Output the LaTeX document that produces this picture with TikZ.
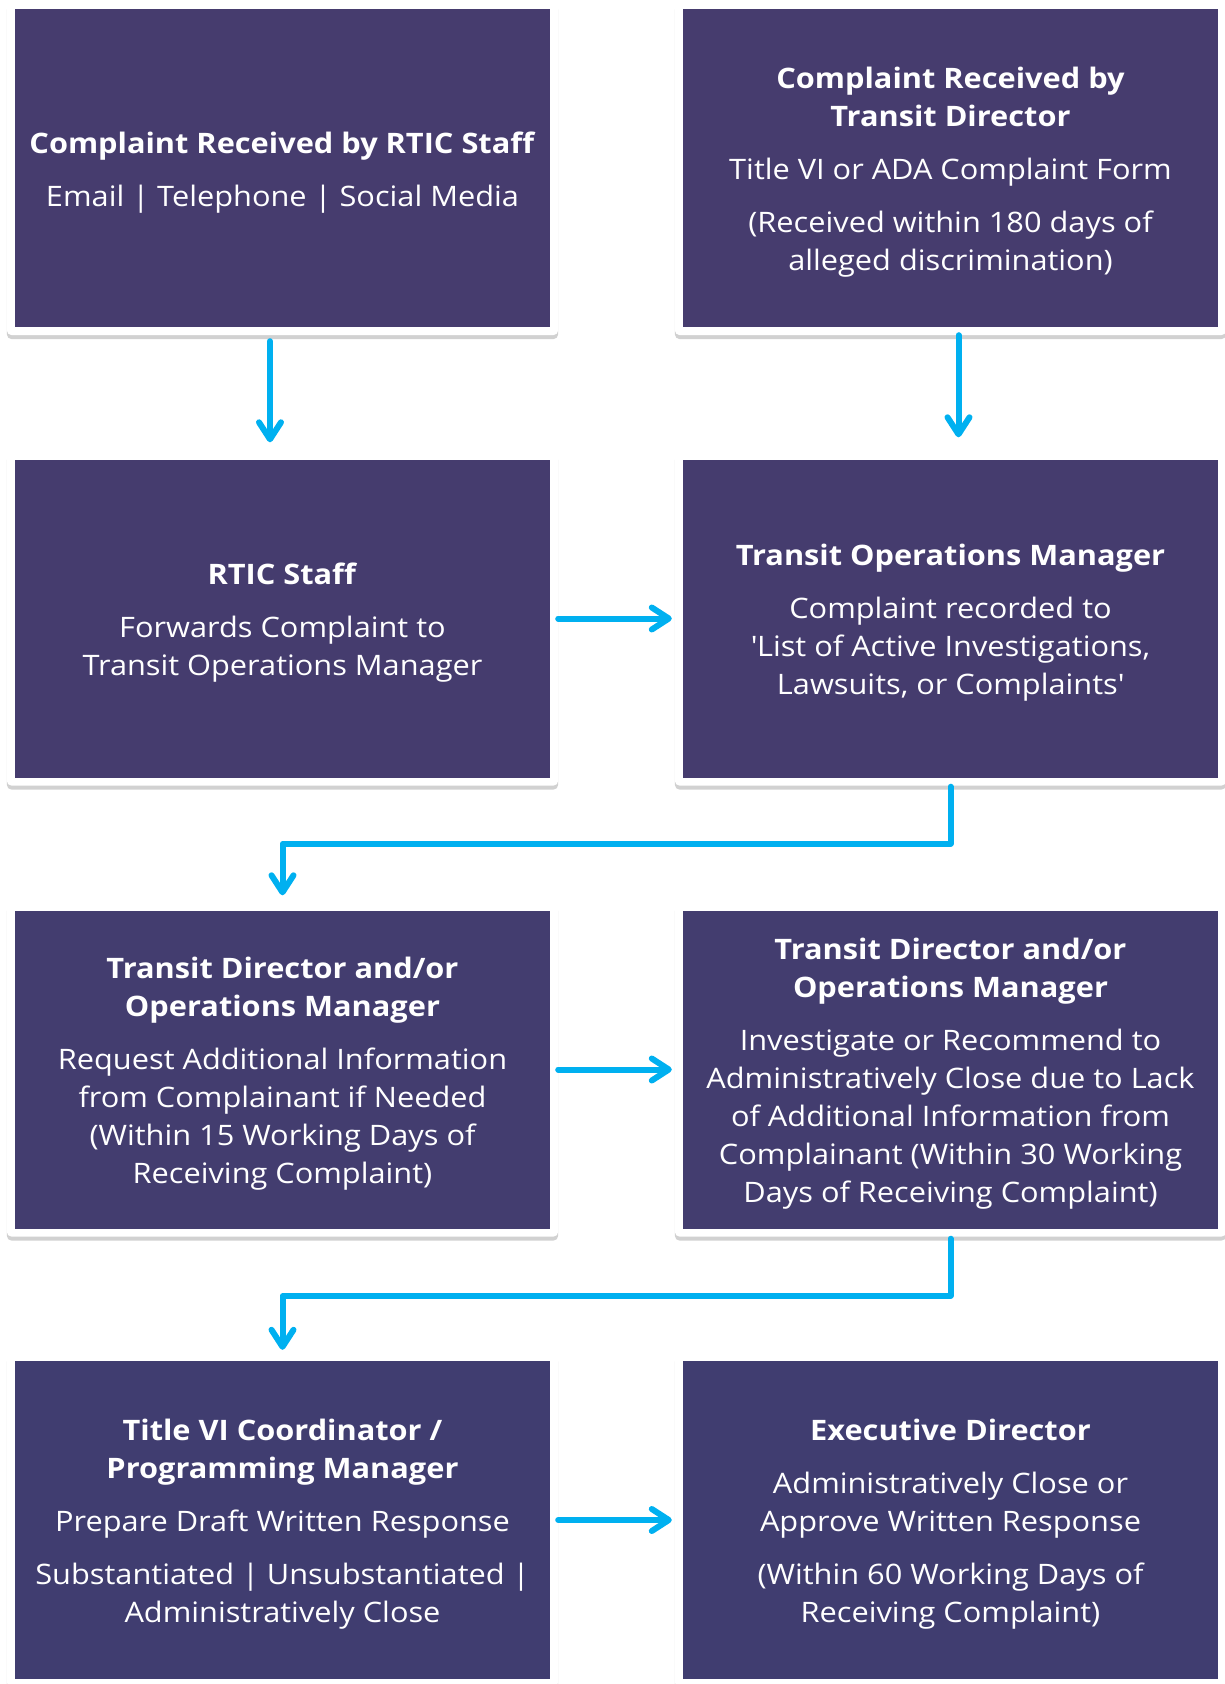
\documentclass[tikz,border=0pt]{standalone}
\usepackage{fontspec}
\setmainfont{Open Sans}[FakeStretch=1.09]
\usetikzlibrary{arrows.meta,shadows,backgrounds}
\definecolor{boxpurple}{RGB}{70,60,110}
\definecolor{boxindigo}{RGB}{64,61,112}
\definecolor{flowblue}{RGB}{0,176,240}
\newcommand{\heading}[1]{\textbf{#1}}
\newcommand{\firsthead}[1]{\rule{0pt}{30pt}\textbf{#1}}
\newcommand{\gap}{\\[15pt]}

\tikzset{
  stepbox/.style={fill=#1, text=white, minimum width=535pt, minimum height=318pt,
    inner sep=0pt, align=center, font=\fontsize{28.2}{38}\selectfont},
  card/.style={fill=white, rounded corners=5pt,
    drop shadow={shadow xshift=0pt, shadow yshift=-4pt, opacity=0.3, fill=black!60}},
  flow/.style={draw=flowblue, line width=6pt, line cap=round, line join=round,
    -{Straight Barb[length=17pt,width=22pt,round]}}
}

\begin{document}
\begin{tikzpicture}[x=1pt,y=-1pt]
\useasboundingbox (0,0) rectangle (1225,1684);

\node[stepbox=boxpurple] (rticin) at (282.5,168)
  {\firsthead{Complaint Received by RTIC Staff}\gap
   Email | Telephone | Social Media};
\node[stepbox=boxpurple] (directorin) at (950.5,168)
  {\firsthead{Complaint Received by}\\ \heading{Transit Director}\gap
   Title VI or ADA Complaint Form\gap
   (Received within 180 days of\\ alleged discrimination)};

\node[stepbox=boxpurple!80!boxindigo] (rticstaff) at (282.5,618.5)
  {\firsthead{RTIC Staff}\gap
   Forwards Complaint to\\ Transit Operations Manager};
\node[stepbox=boxpurple!80!boxindigo] (opsmgr) at (950.5,618.5)
  {\firsthead{Transit Operations Manager}\gap
   Complaint recorded to\\ \textquotesingle List of Active Investigations,\\
   Lawsuits, or Complaints\textquotesingle};

\node[stepbox=boxpurple!45!boxindigo] (reqinfo) at (282.5,1069.5)
  {\firsthead{Transit Director and/or}\\ \heading{Operations Manager}\gap
   Request Additional Information\\ from Complainant if Needed\\
   (Within 15 Working Days of\\ Receiving Complaint)};
\node[stepbox=boxpurple!45!boxindigo] (investigate) at (950.5,1069.5)
  {\firsthead{Transit Director and/or}\\ \heading{Operations Manager}\gap
   Investigate or Recommend to\\ Administratively Close due to Lack\\
   of Additional Information from\\ Complainant (Within 30 Working\\
   Days of Receiving Complaint)};

\node[stepbox=boxindigo] (draftresp) at (282.5,1520)
  {\firsthead{Title VI Coordinator /}\\ \heading{Programming Manager}\gap
   Prepare Draft Written Response\gap
   Substantiated | Unsubstantiated |\\ Administratively Close};
\node[stepbox=boxindigo] (execdir) at (950.5,1520)
  {\firsthead{Executive Director}\gap
   Administratively Close or\\ Approve Written Response\gap
   (Within 60 Working Days of\\ Receiving Complaint)};

\begin{scope}[on background layer]
\foreach \n in {rticin,directorin,rticstaff,opsmgr,reqinfo,investigate,draftresp,execdir}
  \path[card] ([xshift=-8pt,yshift=8pt]\n.north west) rectangle ([xshift=8pt,yshift=-8pt]\n.south east);
\end{scope}

\draw[flow] ([xshift=-12.5pt,yshift=-14pt]rticin.south) -- ([xshift=-12.5pt,yshift=17pt]rticstaff.north);
\draw[flow] ([xshift=8pt,yshift=-8pt]directorin.south) -- ([xshift=8pt,yshift=22pt]opsmgr.north);
\draw[flow] ([xshift=8pt]rticstaff.east) -- ([xshift=-11pt]opsmgr.west);
\draw[flow] ([yshift=-9pt]opsmgr.south) -- ++(0pt,-57pt) -| ([yshift=15pt]reqinfo.north);
\draw[flow] ([xshift=8pt]reqinfo.east) -- ([xshift=-11pt]investigate.west);
\draw[flow] ([yshift=-10pt]investigate.south) -- ++(0pt,-57pt) -| ([yshift=11pt]draftresp.north);
\draw[flow] ([xshift=8pt]draftresp.east) -- ([xshift=-11pt]execdir.west);

\end{tikzpicture}
\end{document}
